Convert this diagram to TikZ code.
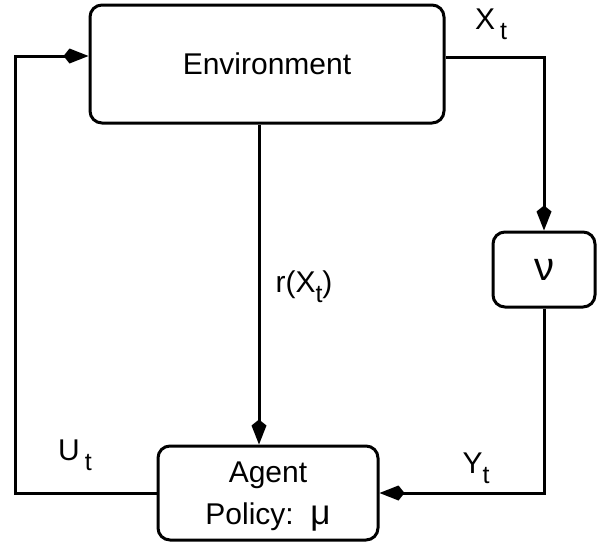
\documentclass[tikz,border=0pt]{standalone}
\usepackage{fontspec}
\setmainfont{Liberation Sans}
\usetikzlibrary{arrows.meta}
\newcommand{\lowsub}[1]{\raisebox{-0.32em}{\fontsize{25}{25}\selectfont #1}}
\begin{document}
\begin{tikzpicture}[x=1pt,y=-1pt,
  box/.style={draw,line width=3pt,rounded corners=12pt,inner sep=0pt},
  conn/.style={line width=3pt},
  arr/.style={conn,-{Kite[length=25pt,width=15pt,inset=6pt]}},
  lbl/.style={font=\fontsize{30}{42}\selectfont,inner sep=0pt}]
\useasboundingbox (0,0) rectangle (603,546);
\node[box,lbl,minimum width=354pt,minimum height=118pt] (env) at (267,64) {Environment\hspace{16pt}};
\node[box,lbl,minimum width=220pt,minimum height=94pt,align=center] (agent) at (268,493)
  {\rule{0pt}{28pt}Agent\\Policy:~~{\fontsize{35}{42}\selectfont μ}};
\node[box,lbl,minimum width=102pt,minimum height=75pt] (nu) at (544,269.5) {\fontsize{40}{42}\selectfont ν};
\coordinate (ul) at (15,56);
\coordinate (ur) at (544,57);
\coordinate (mid) at (259,0);
\draw[arr] (agent.west) -- (agent.west -| ul) -- (ul) -- (env.west |- ul);
\draw[arr] (env.east |- ur) -- (ur) -- (nu.north);
\draw[arr] (nu.south) -- (nu.south |- agent.east) -- (agent.east);
\draw[arr] (env.south -| mid) -- (agent.north -| mid);
\node[lbl] (xt) at (491,24) {X\,\lowsub{t}};
\node[lbl] (rx) at (304,287) {r(X\lowsub{t})};
\node[lbl] (ut) at (75,455) {U\,\lowsub{t}};
\node[lbl] (yt) at (476,468) {Y\lowsub{t}};
\end{tikzpicture}
\end{document}
